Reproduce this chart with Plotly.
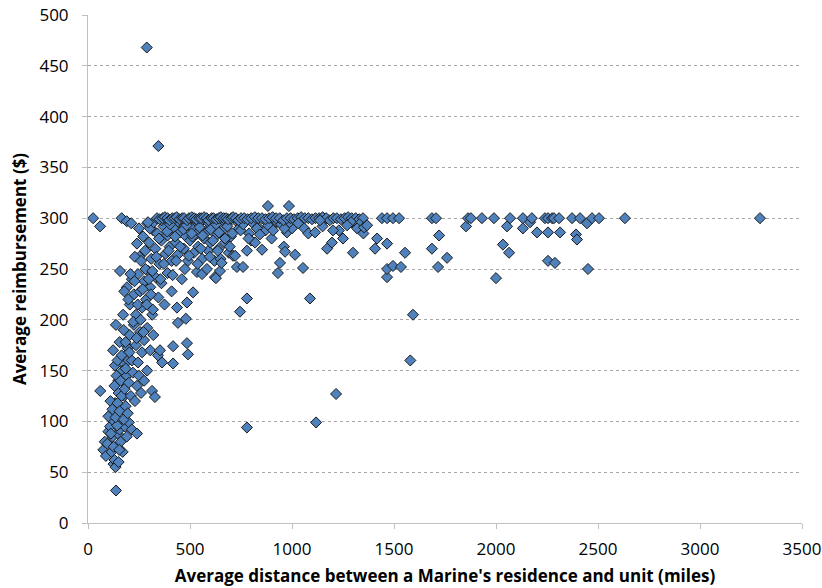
import plotly.graph_objects as go

# ---- data (distance in miles, reimbursement in $) ----
cap_left_x = [25, 59, 165, 190, 212, 294]
cap_left_y = [300, 292, 300, 297, 295, 296]

cap_main_x = [338, 351, 366, 377, 390, 399, 413, 426, 435, 449,
              462, 471, 486, 495, 509, 521, 531, 546, 555, 569,
              582, 591, 606, 615, 629, 641, 651, 665, 677, 687,
              702, 711, 725, 737, 750, 766, 782, 800, 818, 835,
              853, 870, 888, 905, 922, 940, 958, 975, 993, 1010,
              1028, 1045, 1063, 1080, 1098, 1115, 1133, 1150, 1168, 1185,
              1203, 1220, 1240, 1258, 1275, 1293, 1312, 1330, 1348]
cap_main_y = [300, 299, 300, 301, 300, 298, 300, 300, 301, 299,
              300, 300, 298, 300, 301, 300, 299, 300, 300, 301,
              300, 298, 300, 300, 299, 300, 301, 300, 300, 299,
              300, 301, 300, 298, 300, 300, 299, 300, 301, 300,
              300, 299, 300, 301, 300, 300, 298, 300, 300, 299,
              300, 301, 300, 300, 299, 300, 300, 301, 300, 298,
              300, 300, 299, 300, 301, 300, 300, 299, 300]

cap_far_x = [1441, 1466, 1495, 1525, 1686, 1706, 1863, 1877, 1931, 1990,
             2069, 2132, 2176, 2240, 2255, 2275, 2284, 2309, 2373, 2412,
             2446, 2471, 2505, 2632, 3294]
cap_far_y = [300, 300, 300, 300, 300, 300, 300, 300, 300, 300,
             300, 300, 300, 300, 300, 300, 300, 300, 300, 300,
             295, 300, 300, 300, 300]

low_x = [75, 82, 88, 95, 100, 108, 115, 120, 125, 130,
         135, 137, 140, 145, 150, 155, 160, 165, 170, 180,
         190, 200, 215, 240]
low_y = [72, 80, 66, 78, 90, 95, 70, 85, 58, 62,
         55, 32, 75, 88, 60, 92, 80, 98, 70, 95,
         85, 99, 92, 88]

low_fill_x = [112, 118, 126, 133, 143, 148, 153, 163, 168, 178, 188, 198]
low_fill_y = [88, 102, 75, 118, 96, 140, 72, 158, 112, 125, 175, 160]

band100_x = [60, 100, 110, 120, 130, 135, 140, 145, 150, 155,
             160, 165, 170, 175, 180, 185, 190, 195, 200, 210,
             220, 230, 240, 250, 260, 275, 290, 314, 328]
band100_y = [130, 105, 120, 112, 135, 104, 145, 118, 128, 110,
             140, 125, 150, 102, 132, 115, 145, 108, 138, 125,
             148, 120, 135, 145, 128, 140, 150, 130, 124]

band150_x = [123, 132, 137, 145, 155, 165, 175, 185, 195, 205,
             215, 225, 235, 245, 255, 265, 275, 290, 305, 320,
             343, 353, 363, 417, 417, 441, 485, 490]
band150_y = [170, 155, 195, 160, 178, 165, 190, 152, 172, 185,
             160, 195, 175, 158, 188, 168, 180, 192, 170, 185,
             165, 170, 158, 174, 157, 197, 177, 166]

band200_x = [157, 191, 205, 215, 225, 235, 245, 255, 265, 275,
             285, 295, 305, 315, 330, 345, 360, 375, 390, 410,
             436, 460, 480, 485, 515, 534, 559, 583, 622, 627,
             647, 745, 779, 1054, 1088]
band200_y = [248, 232, 215, 240, 225, 205, 245, 228, 212, 238,
             220, 248, 232, 205, 242, 222, 236, 215, 246, 228,
             212, 240, 201, 217, 227, 247, 245, 250, 242, 241,
             248, 208, 221, 251, 221]

mid_fill_x = [172, 178, 184, 198, 203, 208, 222, 228, 238, 244,
              252, 258, 268, 272, 282, 288, 298, 308, 318]
mid_fill_y = [205, 228, 178, 220, 168, 245, 198, 238, 182, 215,
              262, 200, 230, 188, 250, 215, 240, 225, 210]

band250_x = [230, 240, 250, 260, 270, 280, 290, 300, 310, 320,
             330, 340, 350, 360, 370, 380, 390, 400, 410, 420,
             430, 440, 450, 460, 470, 480, 490, 500, 510, 520,
             530, 540, 550, 560, 570, 580, 590, 600, 610, 620,
             630, 640, 650, 660, 670, 680, 690, 700, 711, 721,
             730, 740, 760, 779, 790, 800, 819, 830, 853, 870,
             882, 900, 920, 931, 941, 960, 966, 975, 985, 1000,
             1015]
band250_y = [262, 275, 290, 258, 282, 268, 295, 276, 260, 288,
             270, 285, 255, 278, 292, 265, 283, 272, 258, 290,
             276, 264, 286, 295, 270, 282, 258, 278, 290, 266,
             284, 272, 296, 260, 280, 288, 268, 276, 292, 258,
             283, 270, 260, 288, 276, 294, 266, 282, 263, 263,
             252, 290, 252, 268, 285, 278, 276, 292, 269, 288,
             312, 280, 295, 246, 256, 272, 267, 286, 312, 290,
             264]

upper_fill_x = [315, 335, 355, 372, 395, 415, 432, 452, 475, 495,
                512, 538, 553, 575, 597, 612, 636, 655, 672, 695]
upper_fill_y = [248, 262, 240, 255, 268, 244, 258, 272, 250, 263,
                282, 255, 270, 285, 262, 278, 268, 256, 280, 272]

band280_x = [303, 322, 348, 361, 388, 402, 427, 441, 468, 483,
             508, 522, 547, 562, 588, 601, 628, 642, 667, 683,
             708, 722, 748, 761, 787, 803, 828, 842, 867, 883,
             908, 922, 947, 963, 988]
band280_y = [290, 296, 280, 298, 287, 294, 282, 297, 289, 293,
             285, 298, 291, 283, 296, 289, 294, 286, 297, 292,
             285, 298, 288, 294, 280, 296, 290, 284, 298, 293,
             288, 297, 294, 290, 296]

mid_x = [1030, 1060, 1080, 1150, 1230, 1250, 1290, 1330, 1350]
mid_y = [295, 290, 285, 292, 288, 280, 296, 294, 285]

far_x = [1113, 1118, 1137, 1172, 1196, 1201, 1216, 1270, 1299, 1319,
         1353, 1368, 1407, 1417, 1466, 1466, 1466, 1495, 1534, 1554,
         1580, 1593, 1686, 1716, 1721, 1760, 1853, 2000, 2034, 2054,
         2064, 2132, 2167, 2201, 2255, 2255, 2289, 2314, 2392, 2397,
         2451]
far_y = [286, 99, 298, 270, 276, 288, 127, 293, 266, 290,
         291, 293, 270, 280, 242, 250, 275, 253, 252, 266,
         160, 205, 270, 252, 283, 261, 292, 241, 274, 292,
         266, 290, 296, 286, 286, 258, 256, 286, 284, 279,
         250]

outlier_x = [288, 345, 779]
outlier_y = [468, 371, 94]

x_ticks = [0, 500, 1000, 1500, 2000, 2500, 3000, 3500]
y_ticks = [0, 50, 100, 150, 200, 250, 300, 350, 400, 450, 500]

groups = [
    (low_x, low_y), (low_fill_x, low_fill_y), (band100_x, band100_y),
    (band150_x, band150_y), (band200_x, band200_y), (mid_fill_x, mid_fill_y),
    (band250_x, band250_y), (upper_fill_x, upper_fill_y), (band280_x, band280_y),
    (cap_left_x, cap_left_y), (cap_main_x, cap_main_y), (mid_x, mid_y),
    (far_x, far_y), (cap_far_x, cap_far_y), (outlier_x, outlier_y),
]
xs, ys = [], []
for gx, gy in groups:
    xs.extend(gx)
    ys.extend(gy)

FONT = "Open Sans"

fig = go.Figure()
fig.add_trace(go.Scatter(
    x=xs, y=ys, mode="markers",
    marker=dict(symbol="diamond", size=8.5, color="#4F81BD",
                line=dict(color="#1a1a1a", width=1)),
    showlegend=False, hoverinfo="x+y",
))

axis_common = dict(
    showline=True, linecolor="#BFBFBF", linewidth=1,
    ticks="outside", ticklen=5, tickcolor="#BFBFBF", tickwidth=1,
    tickfont=dict(family=FONT, size=17, color="#000000"),
    zeroline=False, automargin=False,
)

fig.update_layout(
    width=822, height=588, autosize=False,
    margin=dict(l=88, r=20, t=15, b=65),
    paper_bgcolor="white", plot_bgcolor="white",
    xaxis=dict(
        range=[0, 3500], tickvals=x_ticks, showgrid=False,
        title=dict(text="Average distance between a Marine's residence and unit (miles)",
                   font=dict(family=FONT, size=17, color="#000000", weight="bold"),
                   standoff=10),
        ticklabelstandoff=6,
        **axis_common,
    ),
    yaxis=dict(
        range=[0, 500], tickvals=y_ticks, showgrid=True,
        gridcolor="#A6A6A6", griddash="3px,3px", gridwidth=1,
        title=dict(text="Average reimbursement ($)",
                   font=dict(family=FONT, size=17, color="#000000", weight="bold"),
                   standoff=8),
        ticklabelstandoff=10,
        **axis_common,
    ),
)

fig.write_html("out.html",
               config={"displayModeBar": False},
               post_script="document.body.style.margin='0';document.body.style.overflow='hidden';")
